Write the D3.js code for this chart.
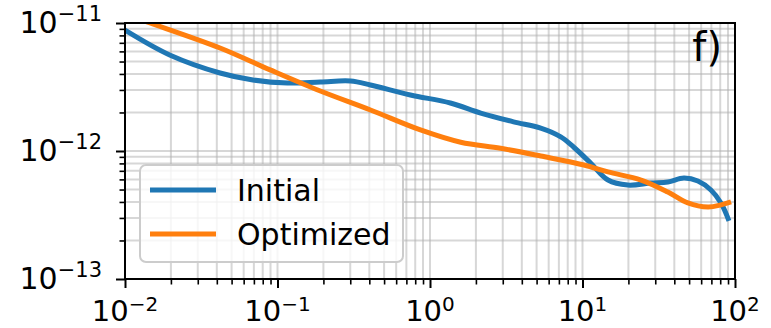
<!DOCTYPE html>
<html><head><meta charset="utf-8">
<script src="https://cdn.jsdelivr.net/npm/d3@7"></script>
<style>body{margin:0;background:#fff}svg{display:block}text{font-family:"DejaVu Sans",sans-serif;fill:#000}</style>
</head><body><svg id="c" width="771" height="328"></svg>
<script>
const xDomain=[1e-2,1e2];
const yDomain=[1e-13,1e-11];
const xTickExps=[-2,-1,0,1,2];
const yTickExps=[-13,-12,-11];
const seriesNames=["Initial","Optimized"];
const colors=["#1f77b4","#ff7f0e"];
const initialX=[0.01,0.0198,0.042,0.069,0.116,0.191,0.301,0.407,0.744,1.36,2.15,3.53,5.32,7.2,8.77,11.3,14.7,19.8,28.1,36.3,46.2,57.1,69.5,80.9,91.3];
const initialY=[8.8e-12,5.6e-12,4.07e-12,3.59e-12,3.40e-12,3.46e-12,3.52e-12,3.28e-12,2.74e-12,2.37e-12,1.98e-12,1.69e-12,1.51e-12,1.29e-12,1.07e-12,8.06e-13,5.93e-13,5.42e-13,5.62e-13,5.73e-13,6.15e-13,5.83e-13,4.96e-13,3.93e-13,2.85e-13];
const optimizedX=[0.01,0.0146,0.042,0.0895,0.191,0.407,0.866,1.59,2.90,5.32,10.2,14.7,24.2,36.3,49.1,66.5,80.9,94.2];
const optimizedY=[1.17e-11,1.0e-11,6.38e-12,4.30e-12,2.94e-12,2.09e-12,1.46e-12,1.17e-12,1.05e-12,9.14e-13,7.78e-13,6.86e-13,5.93e-13,4.78e-13,3.93e-13,3.65e-13,3.79e-13,4.0e-13];
const panelLabel="f)";

const svg=d3.select("#c");
const L=125,R=735,T=23,B=279;
const x=d3.scaleLog().domain(xDomain).range([L,R]);
const y=d3.scaleLog().domain(yDomain).range([B,T]);

function minorTicks(dom){const out=[];const a=Math.round(Math.log10(dom[0])),b=Math.round(Math.log10(dom[1]));
 for(let e=a;e<b;e++)for(let k=2;k<=9;k++)out.push(k*Math.pow(10,e));return out;}
const xMajor=xTickExps.map(e=>Math.pow(10,e)), yMajor=yTickExps.map(e=>Math.pow(10,e));
const xMinor=minorTicks(xDomain), yMinor=minorTicks(yDomain);

const grid=svg.append("g").attr("stroke","#b0b0b0").attr("stroke-opacity",0.5).attr("stroke-width",2);
grid.selectAll(".gx").data(xMajor.concat(xMinor)).join("line").attr("x1",d=>x(d)).attr("x2",d=>x(d)).attr("y1",T).attr("y2",B);
grid.selectAll(".gy").data(yMajor.concat(yMinor)).join("line").attr("y1",d=>y(d)).attr("y2",d=>y(d)).attr("x1",L).attr("x2",R);

svg.append("clipPath").attr("id","clip").append("rect").attr("x",L).attr("y",T).attr("width",R-L).attr("height",B-T);
const line=d3.line().x(d=>x(d[0])).y(d=>y(d[1])).curve(d3.curveCatmullRom.alpha(0.5));
const data=[d3.zip(initialX,initialY),d3.zip(optimizedX,optimizedY)];
svg.append("g").attr("clip-path","url(#clip)").selectAll("path").data(data).join("path")
 .attr("d",line).attr("fill","none").attr("stroke",(d,i)=>colors[i]).attr("stroke-width",5).attr("stroke-linejoin","round").attr("stroke-linecap","butt");

const xAxis=d3.axisBottom(x).tickValues(xMajor).tickSize(9).tickFormat("");
const xAxisMinor=d3.axisBottom(x).tickValues(xMinor).tickSize(5.5).tickFormat("");
const yAxis=d3.axisLeft(y).tickValues(yMajor).tickSize(9).tickFormat("");
const yAxisMinor=d3.axisLeft(y).tickValues(yMinor).tickSize(5.5).tickFormat("");
function style(g,w){g.selectAll(".domain").remove();g.selectAll(".tick line").attr("stroke","#000").attr("stroke-width",w);}
svg.append("g").attr("transform",`translate(0,${B})`).call(xAxis).call(g=>style(g,2));
svg.append("g").attr("transform",`translate(0,${B})`).call(xAxisMinor).call(g=>style(g,1.6));
svg.append("g").attr("transform",`translate(${L},0)`).call(yAxis).call(g=>style(g,2));
svg.append("g").attr("transform",`translate(${L},0)`).call(yAxisMinor).call(g=>style(g,1.6));

xTickExps.forEach(e=>{
 const t=svg.append("text").attr("x",x(Math.pow(10,e))).attr("y",B+42).attr("text-anchor","middle").style("font-size","29px");
 t.append("tspan").text("10");
 t.append("tspan").attr("dy",-10).style("font-size","20px").text(e<0?"\u2212"+(-e):String(e));
});
yTickExps.forEach(e=>{
 const t=svg.append("text").attr("x",L-23).attr("y",y(Math.pow(10,e))+10).attr("text-anchor","end").style("font-size","30px");
 t.append("tspan").text("10");
 t.append("tspan").attr("dy",-12).style("font-size","21px").text("\u2212"+(-e));
});

svg.append("rect").attr("x",L).attr("y",T).attr("width",R-L).attr("height",B-T).attr("fill","none").attr("stroke","#000").attr("stroke-width",2);

svg.append("text").attr("x",722).attr("y",61).attr("text-anchor","end").style("font-size","40px").text(panelLabel);

const lg=svg.append("g");
lg.append("rect").attr("x",140).attr("y",165).attr("width",263).attr("height",97).attr("rx",6)
 .attr("fill","#fff").attr("fill-opacity",0.8).attr("stroke","#cccccc").attr("stroke-width",2);
seriesNames.forEach((n,i)=>{
 const yy=190+i*44;
 lg.append("line").attr("x1",150).attr("x2",216).attr("y1",yy).attr("y2",yy).attr("stroke",colors[i]).attr("stroke-width",5);
 lg.append("text").attr("x",237).attr("y",yy+11).style("font-size","30px").text(n);
});
</script></body></html>
